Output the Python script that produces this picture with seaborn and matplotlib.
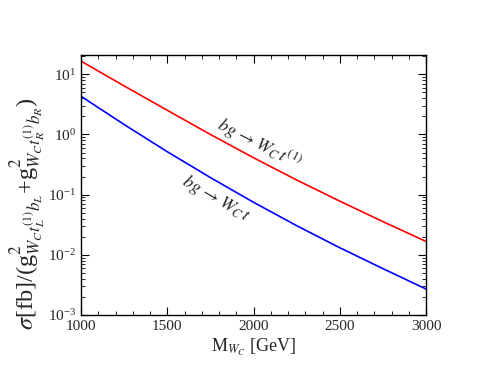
import numpy as np
import pandas as pd
import matplotlib
matplotlib.use('Agg')
import matplotlib.pyplot as plt
import seaborn as sns
from matplotlib.ticker import MultipleLocator, LogLocator

mass = [1000, 1250, 1500, 1750, 2000, 2250, 2500, 2750, 3000]
sigma_t1 = [16.5, 6.4, 2.52, 1.0, 0.41, 0.175, 0.078, 0.0356, 0.0167]
sigma_t = [4.3, 1.46, 0.516, 0.192, 0.0746, 0.0305, 0.0131, 0.0059, 0.0027]

df = pd.DataFrame({
    'M': mass * 2,
    'sigma': sigma_t1 + sigma_t,
    'proc': ['t1'] * len(mass) + ['t'] * len(mass),
})

sns.set_style('ticks')
plt.rcParams['font.family'] = ['Liberation Serif', 'DejaVu Serif']
plt.rcParams['mathtext.fontset'] = 'stix'

fig = plt.figure(figsize=(4.8, 3.71), dpi=100)
ax = fig.add_axes([0.169, 0.151, 0.7185, 0.701])

sns.lineplot(data=df, x='M', y='sigma', hue='proc',
             palette={'t1': '#ff0000', 't': '#0000ff'},
             linewidth=1.2, legend=False, ax=ax)

ax.set_yscale('log')
ax.set_xlim(1000, 3000)
ax.set_ylim(1e-3, 21)
ax.xaxis.set_major_locator(MultipleLocator(500))
ax.xaxis.set_minor_locator(MultipleLocator(100))
ax.yaxis.set_major_locator(LogLocator(base=10, numticks=10))
ax.yaxis.set_minor_locator(LogLocator(base=10, subs=np.arange(2, 10), numticks=10))
ax.tick_params(which='both', direction='in', top=True, right=True,
               labelsize=11, color='black')
ax.tick_params(which='major', length=6, width=0.8)
ax.tick_params(which='minor', length=3, width=0.6)
for s in ax.spines.values():
    s.set_linewidth(1.0)
    s.set_color('black')

ax.set_xlabel(r'M$_{W_C}$ [GeV]', fontsize=13, labelpad=3)
ax.set_ylabel(r'$\sigma$[fb]/(g$^2_{W_C t^{(1)}_L b_L}$+g$^2_{W_C t^{(1)}_R b_R}$)',
              fontsize=17.5)
ax.yaxis.set_label_coords(-0.095, 0.39)

ax.text(2030, 0.68, r'$bg \,\rightarrow W_C\, t^{(1)}$', fontsize=13,
        rotation=-27, ha='center', va='center')
ax.text(1780, 0.085, r'$bg \,\rightarrow W_C\, t$', fontsize=13,
        rotation=-30, ha='center', va='center')

fig.savefig('out.png', dpi=100)
